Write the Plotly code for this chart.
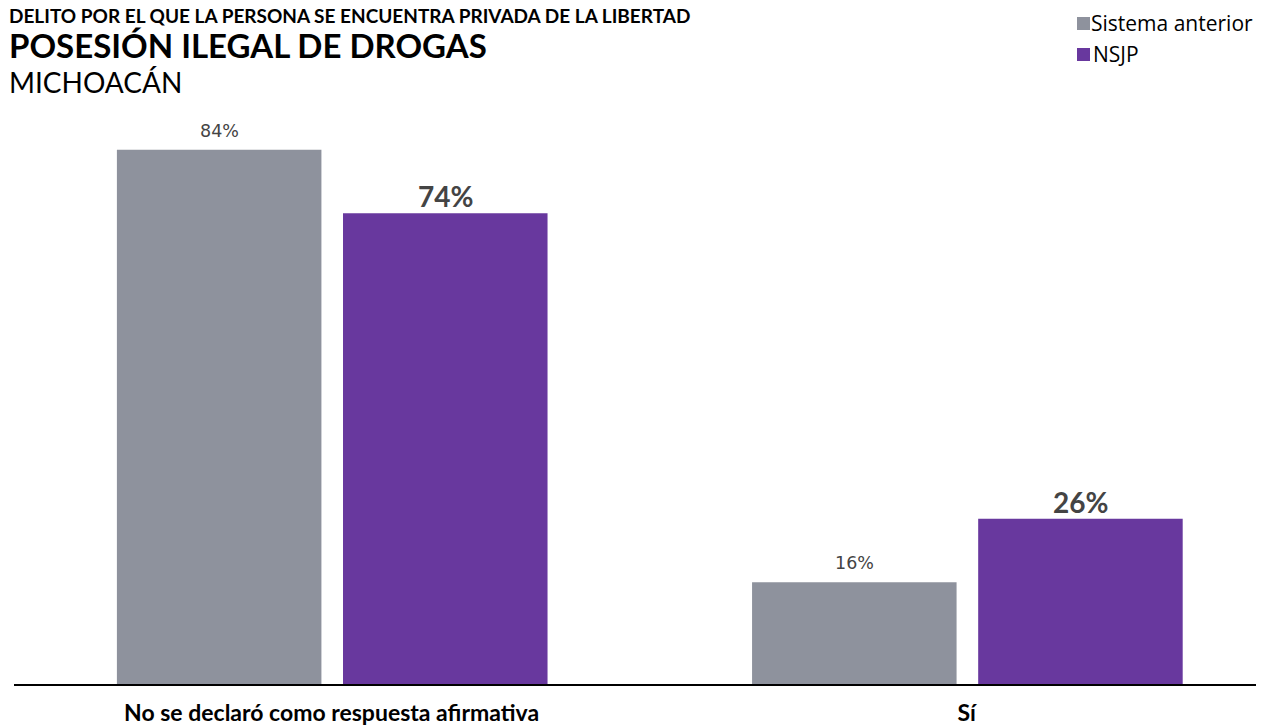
import plotly.graph_objects as go

categories = ["No se declaró como respuesta afirmativa", "Sí"]
series_names = ["Sistema anterior", "NSJP"]
sistema_anterior = [84, 16]
nsjp = [74, 26]

colors = ["#8e929d", "#68389e"]
FONT = "Lato"
W, H = 1256, 717          # page body has an 8px margin
TOP, BOTTOM, LEFT = 40, 41, 6
PLOT_H = H - TOP - BOTTOM
BAR_W = 0.322
OFFSETS = [-0.338, 0.018]

fig = go.Figure()
for vals, nm, col, off in zip([sistema_anterior, nsjp], series_names, colors, OFFSETS):
    fig.add_trace(go.Bar(
        x=list(range(len(categories))), y=vals, name=nm,
        marker=dict(color=col, line=dict(width=0)),
        width=BAR_W, offset=off, showlegend=False,
    ))

fig.update_layout(
    width=W, height=H,
    margin=dict(l=LEFT, r=0, t=TOP, b=BOTTOM, pad=0, autoexpand=False),
    plot_bgcolor="white", paper_bgcolor="white",
    barmode="group",
    font=dict(family=FONT, color="#000000"),
    xaxis=dict(
        range=[-0.5, 1.468], tickmode="array", tickvals=list(range(len(categories))),
        ticktext=[f"<b>{c}</b>" for c in categories],
        tickfont=dict(family=FONT, size=23, color="#000000"),
        showgrid=False, zeroline=False, showline=True, linecolor="#000000", linewidth=2,
        ticks="", ticklabelstandoff=7, automargin=False,
    ),
    yaxis=dict(range=[0, 100], visible=False, showgrid=False, zeroline=False, automargin=False),
)

# value labels
for i, v in enumerate(sistema_anterior):
    fig.add_annotation(xref="x", yref="y", x=i + OFFSETS[0] + BAR_W / 2, y=v,
                       yanchor="bottom", text=f"{v}%", showarrow=False,
                       font=dict(family="DejaVu Sans", size=17.5, color="#444444"), yshift=7)
for i, v in enumerate(nsjp):
    fig.add_annotation(xref="x", yref="y", x=i + OFFSETS[1] + BAR_W / 2, y=v,
                       yanchor="bottom", text=f"<b>{v}%</b>", showarrow=False,
                       font=dict(family=FONT, size=28, color="#444444"), yshift=-2)

def top_note(text, size, y_px, x=0, xanchor="left", xshift=-7, family=FONT):
    fig.add_annotation(xref="paper", yref="paper", x=x, y=1, xanchor=xanchor, yanchor="top",
                       text=text, showarrow=False, align="left",
                       font=dict(family=family, size=size, color="#000000"),
                       xshift=xshift, yshift=TOP - y_px)

# Titles
top_note("<b>DELITO POR EL QUE LA PERSONA SE ENCUENTRA PRIVADA DE LA LIBERTAD</b>", 19, -6)
top_note("<b>POSESIÓN ILEGAL DE DROGAS</b>", 33, 15)
top_note("MICHOACÁN", 28, 55)

# Legend
def py(y_px):
    return 1 + (TOP - y_px) / PLOT_H

for i, (nm, col) in enumerate(zip(series_names, colors)):
    y0 = 9 + 31 * i
    fig.add_shape(type="rect", xref="paper", yref="paper",
                  x0=(1069 - LEFT) / (W - LEFT), x1=(1082 - LEFT) / (W - LEFT),
                  y0=py(y0 + 13), y1=py(y0), fillcolor=col, line=dict(width=0))
    if i == 0:
        top_note(nm, 21, y0 - 10, x=1, xanchor="right", xshift=-9, family="Open Sans")
    else:
        top_note(nm, 21, y0 - 10, x=(1083 - LEFT) / (W - LEFT), xshift=0, family="Open Sans")

fig.write_html("out.html")
